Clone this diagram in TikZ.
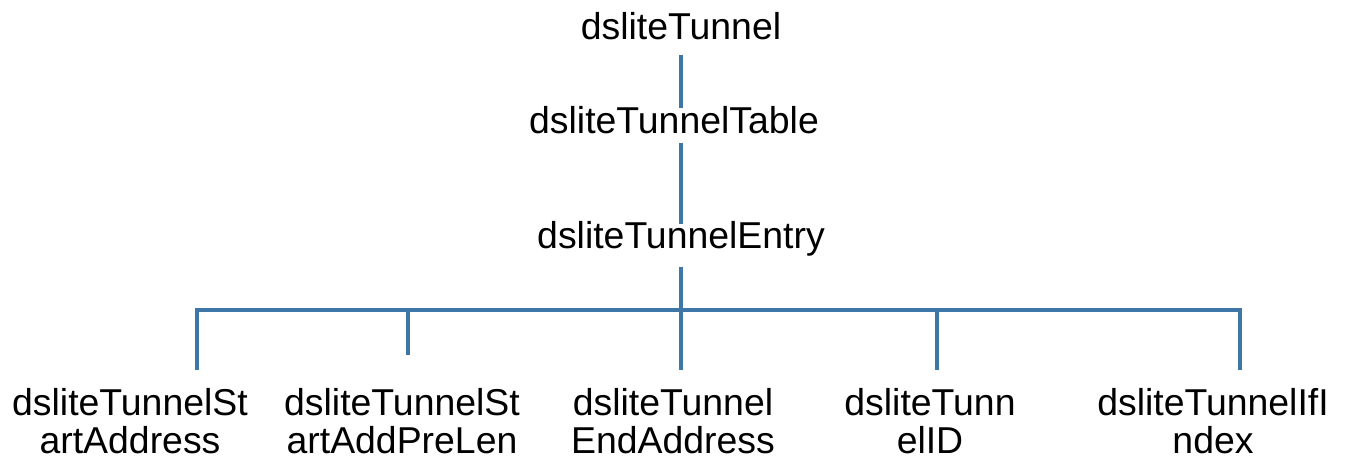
\documentclass[tikz,border=0pt]{standalone}
\usepackage{fontspec}
\setmainfont{Liberation Sans}
\definecolor{linkblue}{HTML}{3F76A8}
\begin{document}
\begin{tikzpicture}[x=1pt,y=-1pt,
  lbl/.style={font=\fontsize{37.4}{38.5}\selectfont, inner sep=0pt, outer sep=0pt, align=center},
  conn/.style={draw=linkblue, line width=3.6pt}]
\useasboundingbox (0,0) rectangle (1358,458);
\node[lbl,anchor=base] (n0) at (681,39) {dsliteTunnel};
\node[lbl,anchor=base] (n1) at (674,133) {dsliteTunnelTable};
\node[lbl,anchor=base] (n2) at (681,248) {dsliteTunnelEntry};
\node[lbl,anchor=north] (c1) at (130,388) {dsliteTunnelSt\\artAddress};
\node[lbl,anchor=north] (c2) at (402,388) {dsliteTunnelSt\\artAddPreLen};
\node[lbl,anchor=north] (c3) at (673,388) {dsliteTunnel\\EndAddress};
\node[lbl,anchor=north] (c4) at (930,388) {dsliteTunn\\elID};
\node[lbl,anchor=north] (c5) at (1213,388) {dsliteTunnelIfI\\ndex};
\coordinate (bus) at (681,310);
\coordinate (b1) at (197,310);
\coordinate (b2) at (408,310);
\coordinate (b4) at (937,310);
\coordinate (b5) at (1240,310);
\draw[conn] ([yshift=-16pt]n0.south) -- ([yshift=-2pt]n1.north -| n0.south);
\draw[conn] ([yshift=-10pt]n1.south -| n0.south) -- ([yshift=-3pt]n2.north -| n0.south);
\draw[conn] ([yshift=-11pt]n2.south -| n0.south) -- (bus);
\draw[conn] ([yshift=18pt]c1.north -| b1) -- (b1) -- (b5) -- ([yshift=18pt]c5.north -| b5);
\draw[conn] (b2) -- ([yshift=33pt]c2.north -| b2);
\draw[conn] (bus) -- ([yshift=18pt]c3.north -| bus);
\draw[conn] (b4) -- ([yshift=18pt]c4.north -| b4);
\end{tikzpicture}
\end{document}
